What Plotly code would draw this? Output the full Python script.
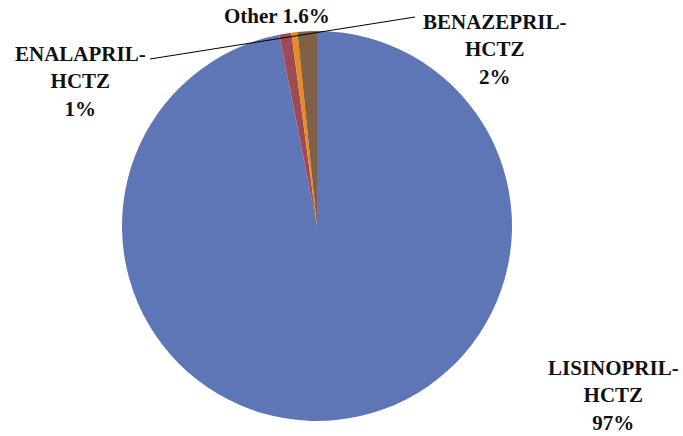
import plotly.graph_objects as go

labels = ["LISINOPRIL-HCTZ", "ENALAPRIL-HCTZ", "Other", "BENAZEPRIL-HCTZ"]
values = [96.9, 1.0, 0.5, 1.6]
colors = ["#5f76b6", "#9e4a55", "#ec8a22", "#7e6146"]
label_texts = ["LISINOPRIL-<br>HCTZ<br>97%", "ENALAPRIL-<br>HCTZ<br>1%", "Other 1.6%", "BENAZEPRIL-<br>HCTZ<br>2%"]

W, H = 683, 436
cx, cy, r = 317, 226, 195

def px(x):
    return x / W

def py(y):
    return 1 - y / H

fig = go.Figure(go.Pie(
    labels=labels, values=values, sort=False, direction="clockwise", rotation=0,
    marker=dict(colors=colors, line=dict(width=0)),
    textinfo="none", hoverinfo="label+percent", showlegend=False,
    domain=dict(x=[px(cx - r), px(cx + r)], y=[py(cy + r), py(cy - r)]),
))

font = dict(family="Liberation Serif", size=21, color="#111111")
label_pos = [(613, 395), (80, 82), (277, 16), (495, 50)]
annotations = []
for t, (x, y) in zip(label_texts, label_pos):
    annotations.append(dict(x=px(x), y=py(y), xref="paper", yref="paper", text="<b>" + t + "</b>",
                            showarrow=False, font=font, xanchor="center", yanchor="middle", align="center"))

fig.update_layout(
    width=W, height=H, margin=dict(l=0, r=0, t=0, b=0),
    paper_bgcolor="white", plot_bgcolor="white",
    annotations=annotations,
    shapes=[dict(type="line", xref="paper", yref="paper", x0=px(150), y0=py(59), x1=px(415), y1=py(17),
                 line=dict(color="black", width=1))],
)
fig.write_html("out.html", config={"displayModeBar": False},
               post_script="document.body.style.margin='0';")
